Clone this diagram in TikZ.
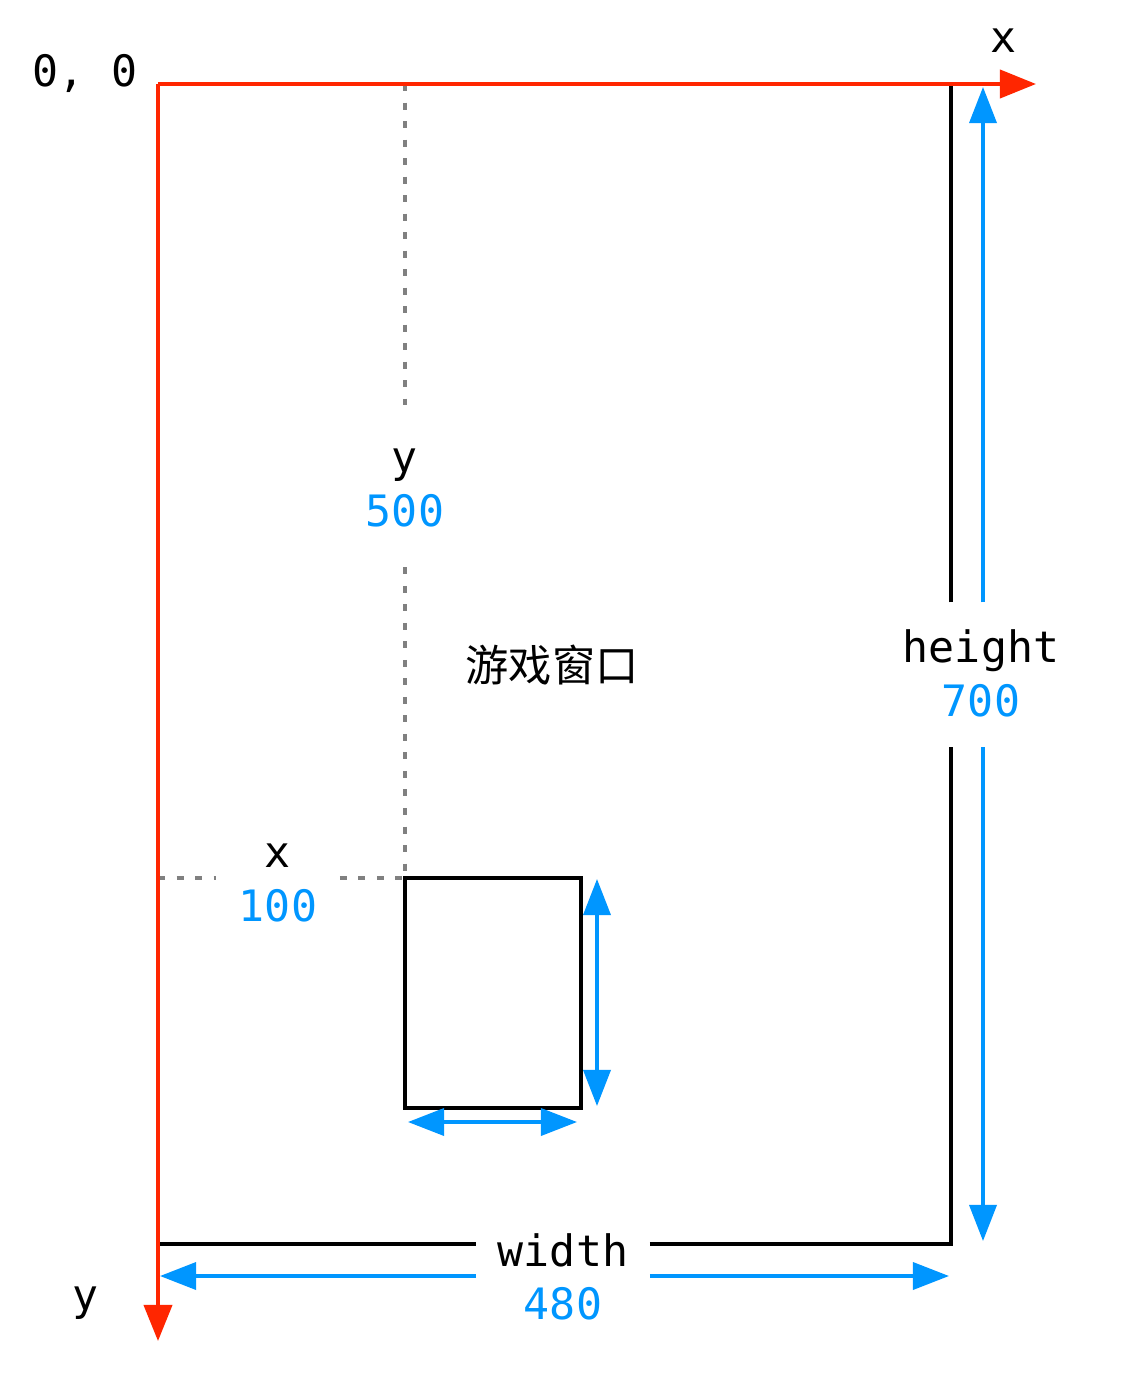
\documentclass[tikz,border=0pt]{standalone}
\usepackage{fontspec}
\usepackage{tikz}
\usetikzlibrary{arrows.meta}
\newfontfamily\monofont{DejaVu Sans Mono}
\newfontfamily\cjkfont{Noto Sans CJK SC}
\definecolor{axisred}{RGB}{255,38,0}
\definecolor{skyblue}{RGB}{0,150,255}
\definecolor{gray50}{gray}{0.5}

\begin{document}
\begin{tikzpicture}[x=0.01cm, y=-0.01cm,
    >={Triangle[length=0.36cm, width=0.27cm]},
    axis/.style={axisred, line width=1.1pt, -{Triangle[length=0.36cm, width=0.28cm]}},
    frame/.style={black, line width=0.9pt},
    measure/.style={skyblue, line width=1pt},
    guide/.style={gray50, line width=0.9pt, dash pattern=on 0.07cm off 0.115cm},
    txt/.style={font=\monofont\fontsize{12.3}{15}\selectfont, inner sep=0pt, anchor=base},
  ]

  \fill[white] (0, 0) rectangle (1129, 1376);

  % corners and arrow ends
  \coordinate (O) at (158, 84);
  \coordinate (xtip) at (1036, 84);
  \coordinate (ytip) at (158, 1341);
  \coordinate (BR) at (951, 1244);
  \coordinate (htop) at (983, 87);
  \coordinate (hbot) at (983, 1241);
  \coordinate (wleft) at (160, 1276);
  \coordinate (wright) at (949, 1276);
  \coordinate (P) at (405, 878);
  \coordinate (Q) at (581, 1108);
  \coordinate (hs1) at (597, 879);
  \coordinate (hs2) at (597, 1106);
  \coordinate (ws1) at (408, 1122);
  \coordinate (ws2) at (577, 1122);

  % texts
  \node[txt] (origin) at (85, 87) {0, 0};
  \node[txt] (xname) at (1004, 53) {x};
  \node[txt] (yname) at (86, 1310) {y};
  \node[font=\cjkfont\fontsize{12.3}{15}\selectfont, inner sep=0pt] (title) at (552, 665) {游戏窗口};

  \node[txt, inner ysep=0.43cm] (ylab) at (405, 472) {y};
  \node[txt, skyblue, inner ysep=0.40cm] (yval) at (405, 526) {500};
  \node[txt] (xlab) at (278, 867) {x};
  \node[txt, skyblue, inner xsep=0.22cm] (xval) at (278, 921) {100};
  \node[txt, inner ysep=0.26cm] (hlab) at (981, 662) {height};
  \node[txt, skyblue, inner ysep=0.30cm] (hval) at (981, 716) {700};
  \node[txt, inner xsep=0.21cm] (wlab) at (563, 1266) {width};
  \node[txt, skyblue] (wval) at (563, 1319) {480};

  % window
  \draw[frame] (O |- BR) -- (wlab.west |- BR);
  \draw[frame] (wlab.east |- BR) -- (BR) -- (BR |- hval.south);
  \draw[frame] (BR |- hlab.north) -- (BR |- O);

  \draw[measure, ->] (htop |- hlab.north) -- (htop);
  \draw[measure, ->] (hbot |- hval.south) -- (hbot);
  \draw[measure, ->] (wlab.west |- wleft) -- (wleft);
  \draw[measure, ->] (wlab.east |- wright) -- (wright);

  % position guides
  \draw[guide] (P |- O) -- (ylab.north);
  \draw[guide] (yval.south) -- (P);
  \draw[guide] (O |- P) -- (xval.west |- P);
  \draw[guide] (xval.east |- P) -- (P);

  % sprite
  \draw[frame] (P) rectangle (Q);
  \draw[measure, <->] (hs1) -- (hs2);
  \draw[measure, <->] (ws1) -- (ws2);

  % axes
  \draw[axis] (O) -- (xtip);
  \draw[axis] (O) -- (ytip);

\end{tikzpicture}
\end{document}
